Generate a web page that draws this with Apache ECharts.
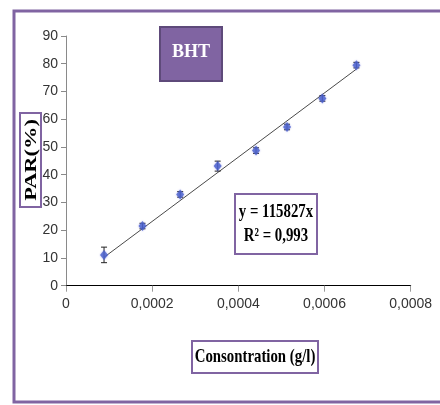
<!DOCTYPE html>
<html>
<head>
<meta charset="utf-8">
<script src="https://cdn.jsdelivr.net/npm/echarts@6/dist/echarts.min.js"></script>
<style>
  html, body { margin: 0; padding: 0; background: #fff; }
  #chart { width: 440px; height: 405px; }
</style>
</head>
<body>
<div id="chart"></div>
<script>
// Concentration of BHT (g/l) and measured antiradical activity PAR (%)
const concentration = [0.0000883, 0.0001775, 0.000265, 0.000352, 0.000441, 0.000513, 0.000595, 0.000674];
const parValues = [11.1, 21.5, 32.9, 43.1, 48.7, 57.2, 67.5, 79.5];
const parErrors = [2.8, 1.0, 1.0, 1.8, 1.0, 1.0, 1.0, 1.0];

// Linear fit through the origin
const slope = 115827;
const rSquared = '0,993';

const xTicks = [0, 0.0002, 0.0004, 0.0006, 0.0008];
const yTicks = [0, 10, 20, 30, 40, 50, 60, 70, 80, 90];

const purple = '#8064A2';
const narrow = "'Liberation Sans Narrow', 'Arial Narrow', 'Liberation Sans', sans-serif";
const serif = "'Liberation Serif', 'Times New Roman', serif";

const points = concentration.map((c, i) => [c, parValues[i]]);
const errorData = concentration.map((c, i) => [c, parValues[i] - parErrors[i], parValues[i] + parErrors[i]]);
const xMin = Math.min(...concentration);
const xMax = Math.max(...concentration);
const fitLine = [[xMin, slope * xMin], [xMax, slope * xMax]];

const chart = echarts.init(document.getElementById('chart'), null, { renderer: 'canvas' });

chart.setOption({
  animation: false,
  backgroundColor: '#fff',
  grid: { left: 66, right: 29.3, top: 36, bottom: 119.3, containLabel: false },
  xAxis: {
    type: 'value',
    min: xTicks[0],
    max: xTicks[xTicks.length - 1],
    interval: 0.0002,
    splitLine: { show: false },
    axisLine: { show: true, lineStyle: { color: '#000', width: 1 } },
    axisTick: { show: true, inside: false, length: 6, lineStyle: { color: '#9a9a9a' } },
    axisLabel: {
      margin: 11,
      color: '#333',
      fontFamily: narrow,
      fontSize: 14,
      formatter: v => {
        const t = xTicks.find(k => Math.abs(k - v) < 1e-9);
        return t === 0 ? '0' : t.toFixed(4).replace('.', ',');
      }
    }
  },
  yAxis: {
    type: 'value',
    min: yTicks[0],
    max: yTicks[yTicks.length - 1],
    interval: 10,
    splitLine: { show: false },
    axisLine: { show: true, onZero: false, lineStyle: { color: '#8a8a8a', width: 1 } },
    axisTick: { show: true, inside: false, length: 5, lineStyle: { color: '#8a8a8a' } },
    axisLabel: { margin: 8, color: '#333', fontFamily: narrow, fontSize: 14 }
  },
  graphic: [
    // outer frame
    { type: 'rect', silent: true, z: 0,
      shape: { x: 14, y: 11, width: 440, height: 391 },
      style: { fill: 'none', stroke: purple, lineWidth: 3 } },
    // title box
    { type: 'rect', z: 10,
      shape: { x: 160, y: 27, width: 62, height: 54 },
      style: { fill: purple, stroke: '#5E4A7A', lineWidth: 2 } },
    { type: 'text', z: 11, x: 191, y: 52, scaleX: 0.95,
      style: { text: 'BHT', fill: '#fff', font: 'bold 19px ' + serif, align: 'center', verticalAlign: 'middle' } },
    // y-axis title box
    { type: 'rect', z: 10,
      shape: { x: 20, y: 113, width: 21, height: 94 },
      style: { fill: '#fff', stroke: purple, lineWidth: 2 } },
    { type: 'text', z: 11, x: 31.5, y: 160, rotation: Math.PI / 2, scaleX: 1.4,
      style: { text: 'PAR(%)', fill: '#000', font: 'bold 16px ' + serif, align: 'center', verticalAlign: 'middle' } },
    // equation box
    { type: 'rect', z: 10,
      shape: { x: 235, y: 194, width: 82, height: 60 },
      style: { fill: '#fff', stroke: purple, lineWidth: 2 } },
    { type: 'text', z: 11, x: 276, y: 212, scaleX: 0.78,
      style: { text: 'y = ' + slope + 'x', fill: '#000', font: 'bold 19px ' + serif, align: 'center', verticalAlign: 'middle' } },
    { type: 'text', z: 11, x: 276, y: 236, scaleX: 0.78,
      style: { text: 'R² = ' + rSquared, fill: '#000', font: 'bold 19px ' + serif, align: 'center', verticalAlign: 'middle' } },
    // x-axis title box
    { type: 'rect', z: 10,
      shape: { x: 192, y: 341, width: 126, height: 32 },
      style: { fill: '#fff', stroke: purple, lineWidth: 2 } },
    { type: 'text', z: 11, x: 255, y: 357, scaleX: 0.78,
      style: { text: 'Consontration (g/l)', fill: '#000', font: 'bold 19px ' + serif, align: 'center', verticalAlign: 'middle' } }
  ],
  series: [
    {
      name: 'fit',
      type: 'line',
      data: fitLine,
      symbol: 'none',
      lineStyle: { color: '#4a4a4a', width: 1 },
      z: 2
    },
    {
      name: 'error',
      type: 'custom',
      data: errorData,
      z: 3,
      renderItem: (params, api) => {
        const x = api.value(0);
        const lo = api.coord([x, api.value(1)]);
        const hi = api.coord([x, api.value(2)]);
        const cap = 3;
        const style = { stroke: '#222', lineWidth: 1 };
        return {
          type: 'group',
          children: [
            { type: 'line', shape: { x1: lo[0], y1: lo[1], x2: hi[0], y2: hi[1] }, style },
            { type: 'line', shape: { x1: lo[0] - cap, y1: lo[1], x2: lo[0] + cap, y2: lo[1] }, style },
            { type: 'line', shape: { x1: hi[0] - cap, y1: hi[1], x2: hi[0] + cap, y2: hi[1] }, style }
          ]
        };
      }
    },
    {
      name: 'PAR',
      type: 'scatter',
      data: points,
      symbol: 'diamond',
      symbolSize: [8, 10],
      itemStyle: { color: '#4A62CC', shadowBlur: 2, shadowColor: 'rgba(90,90,220,0.6)' },
      z: 4
    }
  ]
});
</script>
</body>
</html>
